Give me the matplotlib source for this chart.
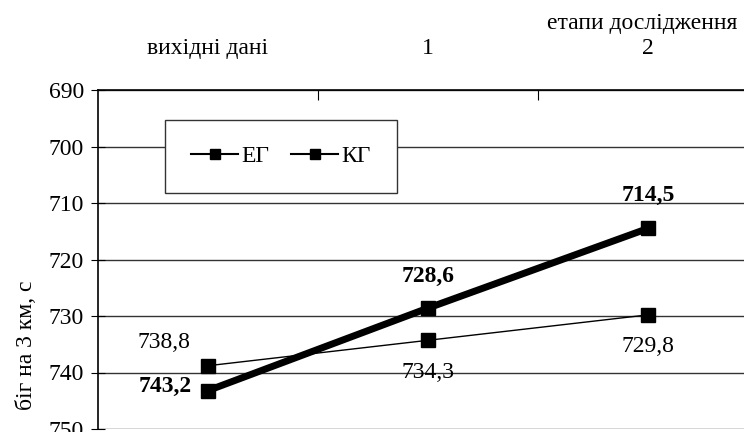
import matplotlib
matplotlib.use('Agg')
import matplotlib.pyplot as plt

plt.rcParams['font.family'] = ['Liberation Serif', 'DejaVu Serif']

# data
stages = ['вихідні дані', '1', '2']
eg = [743.2, 728.6, 714.5]
kg = [738.8, 734.3, 729.8]
eg_labels = ['743,2', '728,6', '714,5']
kg_labels = ['738,8', '734,3', '729,8']
y_ticks = [690, 700, 710, 720, 730, 740, 750]

FS = 17

fig = plt.figure(figsize=(7.44, 4.32), dpi=100)
# axes runs past the right edge, like the original
ax = fig.add_axes([98 / 744, 3 / 432, 660 / 744, 339 / 432])

x = list(range(len(stages)))
ax.plot(x, eg, color='black', lw=5, marker='s', ms=9.5, label='ЕГ', zorder=4)
ax.plot(x, kg, color='black', lw=1.0, marker='s', ms=9.5, label='КГ', zorder=3)

ax.set_xlim(-0.5, 2.5)
ax.set_ylim(750, 690)
ax.set_yticks(y_ticks)
ax.yaxis.grid(True, color='#333333', lw=1.0)
ax.set_axisbelow(True)

ax.xaxis.tick_top()
ax.set_xticks([0.5, 1.5])
ax.set_xticklabels([])
ax.set_xticks(x, minor=True)
ax.set_xticklabels(stages, minor=True)
ax.tick_params(axis='x', which='minor', length=0, pad=22, labelsize=FS)
ax.tick_params(axis='x', which='major', direction='in', length=7, width=0.8)
ax.tick_params(axis='y', direction='inout', length=10, width=0.8, labelsize=FS, pad=5)

for s in ['right', 'bottom']:
    ax.spines[s].set_visible(False)
ax.spines['left'].set_linewidth(1.2)
ax.spines['top'].set_linewidth(1.2)

# value labels
lab = dict(fontsize=FS, ha='center', va='center', textcoords='offset points')
ax.annotate(eg_labels[0], (0, eg[0]), xytext=(-31, 3), fontweight='bold', **lab)
ax.annotate(kg_labels[0], (0, kg[0]), xytext=(-32, 17), **lab)
ax.annotate(eg_labels[1], (1, eg[1]), xytext=(0, 23), fontweight='bold', **lab)
ax.annotate(kg_labels[1], (1, kg[1]), xytext=(0, -23), **lab)
ax.annotate(eg_labels[2], (2, eg[2]), xytext=(0, 24), fontweight='bold', **lab)
ax.annotate(kg_labels[2], (2, kg[2]), xytext=(0, -23), **lab)

leg = ax.legend(loc='upper left', bbox_to_anchor=(67 / 660, 1 - 30 / 339), ncol=2, fontsize=FS,
                frameon=True, fancybox=False, edgecolor='#333333', framealpha=1,
                handlelength=2.0, handletextpad=0.15, columnspacing=0.9,
                borderpad=1.1, borderaxespad=0)
leg.get_frame().set_linewidth(1.0)
for h in leg.legend_handles:
    h.set_linewidth(1.5)
    h.set_markersize(7)

fig.text(642 / 744, 1 - 23 / 432, 'етапи дослідження', fontsize=FS, ha='center', va='center')
fig.text(27 / 744, 1 - 345 / 432, 'біг на 3 км, с', fontsize=FS, rotation=90, ha='center', va='center')

fig.savefig('out.png', dpi=100)
